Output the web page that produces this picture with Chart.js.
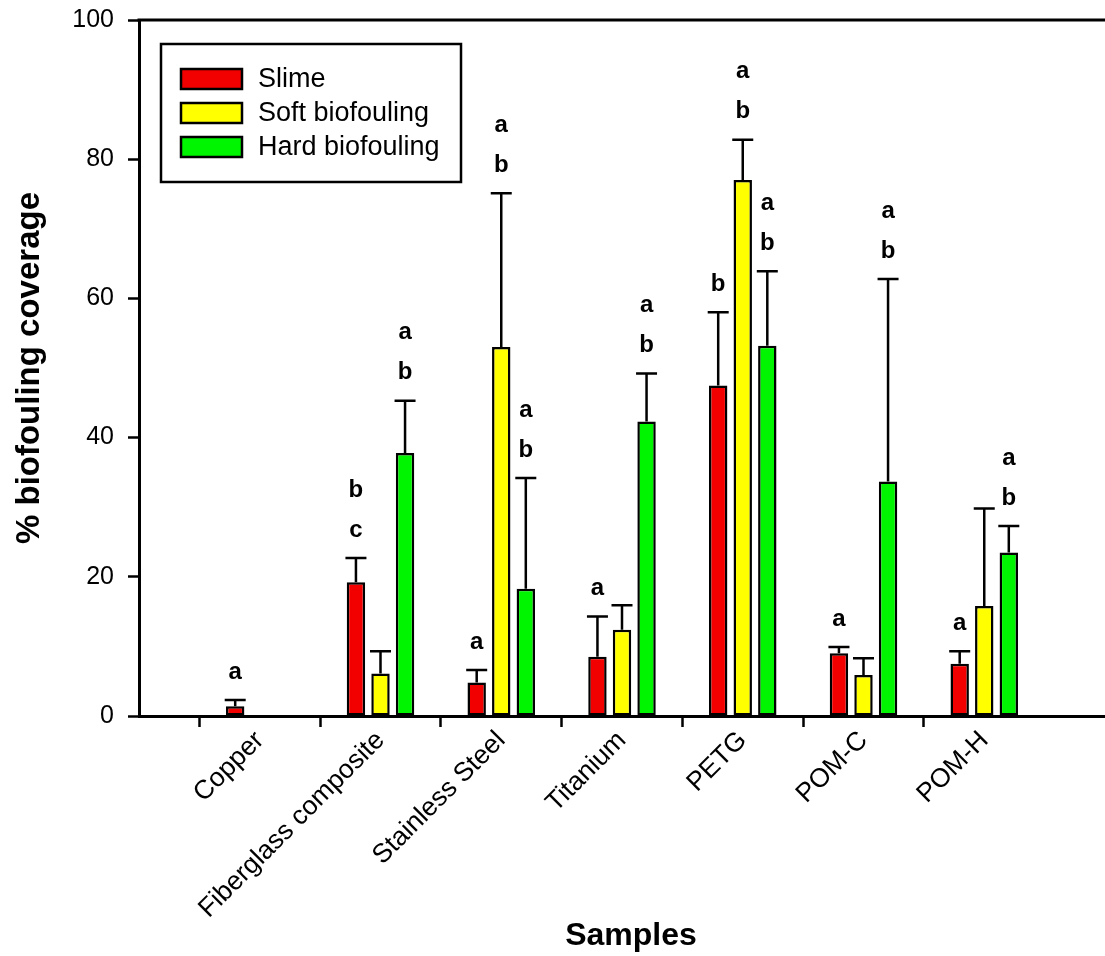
<!DOCTYPE html>
<html>
<head>
<meta charset="utf-8">
<script src="https://cdn.jsdelivr.net/npm/chart.js@4.4.1/dist/chart.umd.min.js"></script>
<style>
  body { margin: 0; background: #fff; }
  canvas { display: block; }
</style>
</head>
<body>
<canvas id="coverageChart" width="1105" height="956"></canvas>
<script>
// --- Data ---
const categories = ["Copper", "Fiberglass composite", "Stainless Steel", "Titanium", "PETG", "POM-C", "POM-H"];
const seriesNames = ["Slime", "Soft biofouling", "Hard biofouling"];

const slime = [1.4, 19.2, 4.8, 8.5, 47.5, 9.0, 7.5];
const slimeErr = [0.9, 3.5, 1.8, 5.8, 10.5, 0.9, 1.8];
const soft = [0, 6.1, 53.0, 12.4, 77.0, 5.9, 15.8];
const softErr = [0, 3.2, 22.1, 3.5, 5.8, 2.4, 14.0];
const hard = [0, 37.8, 18.3, 42.3, 53.2, 33.7, 23.5];
const hardErr = [0, 7.5, 15.9, 6.9, 10.7, 29.1, 3.8];

// significance letters above each bar
const slimeLetters = ["a", "bc", "a", "a", "b", "a", "a"];
const softLetters = ["", "", "ab", "", "ab", "", ""];
const hardLetters = ["", "ab", "ab", "ab", "ab", "ab", "ab"];

const yTicks = [0, 20, 40, 60, 80, 100];

const FONT = "'Liberation Sans', Arial, sans-serif";
const colors = ["#f20000", "#ffff00", "#00f500"];

// empty slots at both ends so the groups sit on whole-unit ticks
const pad = arr => [null, ...arr, null];
const labels = ["", ...categories, ""];
const errs = [slimeErr, softErr, hardErr];
const letters = [slimeLetters, softLetters, hardLetters];

// --- Plugins ---
const errorBars = {
    id: "errorBars",
    afterDatasetsDraw(chart) {
        const ctx = chart.ctx, y = chart.scales.y;
        ctx.save();
        ctx.strokeStyle = "#000";
        ctx.lineWidth = 2.5;
        chart.data.datasets.forEach((ds, d) => {
            const meta = chart.getDatasetMeta(d);
            meta.data.forEach((bar, i) => {
                const v = ds.data[i];
                if (v == null) return;
                const e = errs[d][i - 1];
                const top = y.getPixelForValue(v + e);
                if (e > 0) {
                    ctx.beginPath();
                    ctx.moveTo(bar.x, bar.y);
                    ctx.lineTo(bar.x, top);
                    ctx.moveTo(bar.x - 10.5, top);
                    ctx.lineTo(bar.x + 10.5, top);
                    ctx.stroke();
                }
                const txt = letters[d][i - 1];
                if (txt) {
                    ctx.fillStyle = "#000";
                    ctx.font = `bold 24px ${FONT}`;
                    ctx.textAlign = "center";
                    ctx.textBaseline = "middle";
                    const chars = txt.split("");
                    chars.forEach((c, k) => {
                        const off = 28 + (chars.length - 1 - k) * 40;
                        ctx.fillText(c, bar.x, top - off);
                    });
                }
            });
        });
        ctx.restore();
    }
};

const frame = {
    id: "frame",
    afterDraw(chart) {
        const ctx = chart.ctx, a = chart.chartArea;
        ctx.save();
        // top border
        ctx.strokeStyle = "#000";
        ctx.lineWidth = 3;
        ctx.beginPath();
        ctx.moveTo(a.left - 1.5, a.top);
        ctx.lineTo(a.right, a.top);
        ctx.stroke();

        // axis titles
        ctx.fillStyle = "#000";
        ctx.textAlign = "center";
        ctx.textBaseline = "middle";
        ctx.font = `bold 32px ${FONT}`;
        ctx.fillText("Samples", 631, 936);
        ctx.save();
        ctx.translate(30, (a.top + a.bottom) / 2);
        ctx.rotate(-Math.PI / 2);
        ctx.font = `bold 33px ${FONT}`;
        ctx.fillText("% biofouling coverage", 0, 0);
        ctx.restore();

        // legend box
        ctx.lineWidth = 2.5;
        ctx.strokeRect(161, 44, 300, 138);
        ctx.font = `27px ${FONT}`;
        ctx.textAlign = "left";
        chart.data.datasets.forEach((ds, d) => {
            const yy = 69 + d * 34;
            ctx.fillStyle = ds.backgroundColor;
            ctx.fillRect(181, yy, 61, 20);
            ctx.lineWidth = 2.5;
            ctx.strokeRect(181, yy, 61, 20);
            ctx.fillStyle = "#000";
            ctx.fillText(ds.label, 258, yy + 11);
        });
        ctx.restore();
    }
};

// --- Chart ---
const datasets = [slime, soft, hard].map((vals, d) => ({
    label: seriesNames[d],
    data: pad(vals),
    backgroundColor: colors[d],
    borderColor: "#000",
    borderWidth: 2.5,
    borderSkipped: false,
    categoryPercentage: 0.61,
    barPercentage: 0.75
}));

new Chart(document.getElementById("coverageChart"), {
    type: "bar",
    data: { labels: labels, datasets: datasets },
    options: {
        responsive: false,
        animation: false,
        layout: { padding: { top: 20, right: 0, left: 0, bottom: 0 } },
        plugins: { legend: { display: false }, tooltip: { enabled: false } },
        scales: {
            x: {
                offset: false,
                afterFit: s => { s.height = 240; s.paddingLeft = 0; s.paddingRight = 0; },
                grid: {
                    drawOnChartArea: false,
                    tickLength: 11,
                    tickWidth: 2.5,
                    tickColor: c => (c.index === 0 || c.index === labels.length - 1) ? "rgba(0,0,0,0)" : "#000"
                },
                border: { display: true, color: "#000", width: 3 },
                ticks: {
                    autoSkip: false,
                    minRotation: 45,
                    maxRotation: 45,
                    padding: -2,
                    color: "#000",
                    font: { family: FONT, size: 26.5 }
                }
            },
            y: {
                min: 0,
                max: 100,
                afterFit: s => { s.width = 139; s.paddingTop = 0; s.paddingBottom = 0; },
                afterBuildTicks: s => { s.ticks = yTicks.map(v => ({ value: v })); },
                grid: { drawOnChartArea: false, tickLength: 11, tickWidth: 2.5, tickColor: "#000" },
                border: { display: true, color: "#000", width: 3 },
                ticks: {
                    padding: 14,
                    color: "#000",
                    font: { family: FONT, size: 25 }
                }
            }
        }
    },
    plugins: [errorBars, frame]
});
</script>
</body>
</html>
